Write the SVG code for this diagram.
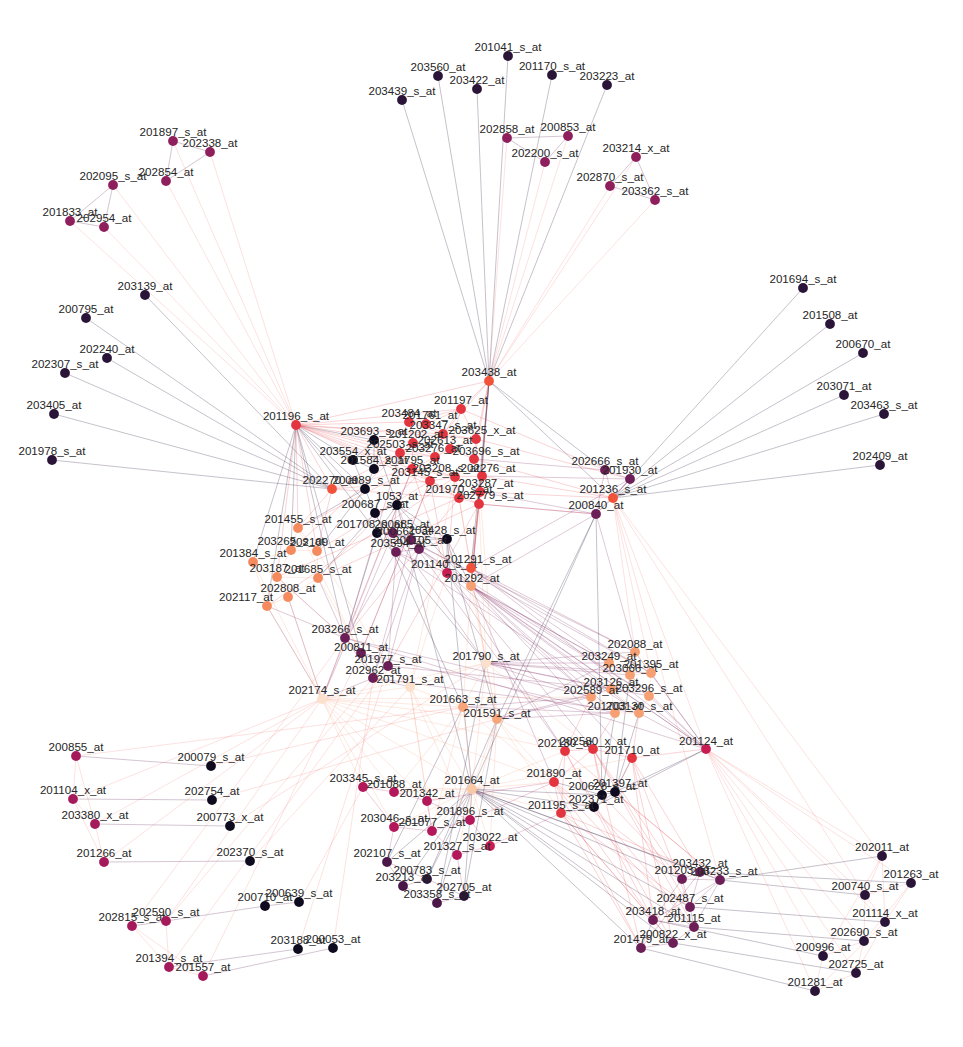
<svg xmlns="http://www.w3.org/2000/svg" width="963" height="1047" viewBox="0 0 963 1047">
<style>
text{font-family:"Liberation Sans",Arial,sans-serif;font-size:11.6px;fill:#262626;text-anchor:middle}
circle{r:4.9}
.d{fill:#2a1538}.k{fill:#0f0b1f}.m{fill:#8e1f5c}.w{fill:#a51a5b}.b{fill:#b2185a}.c{fill:#c91c53}
.p{fill:#6b1f56}.pd{fill:#4a1748}.r{fill:#e23540}.or{fill:#f0523a}.o{fill:#f58a5e}.q{fill:#f59f73}
.l{fill:#f6a67a}.vl{fill:#fbe0cc}.lp{fill:#f9c9a6}
.e{fill:none;stroke-width:0.65}
</style>
<rect width="963" height="1047" fill="#fff"/>
<g id="edges">
<path class="e" stroke="#3d2b4d" stroke-opacity="0.45" d="M508,56L489,381 M438,76L489,381 M477,89L489,381 M552,75L489,381 M607,85L489,381 M402,100L489,381 M145,295L332,489 M86,318L332,489 M107,358L332,489 M65,373L332,489 M54,414L332,489 M52,460L332,489 M803,288L613,498 M830,324L613,498 M863,353L613,498 M844,395L613,498 M884,414L613,498 M880,465L613,498 M489,381L613,498 M489,381L605,470 M489,381L480,492 M489,381L471,568 M489,381L471,586 M489,381L479,504 M296,425L374,440 M296,425L353,460 M296,425L365,489 M296,425L375,513 M296,425L377,533 M296,425L291,550 M296,425L253,562 M296,425L345,638 M296,425L361,653 M296,425L267,606 M374,440L353,460 M374,440L374,469 M353,460L374,469 M353,460L365,489 M374,469L365,489 M365,489L375,513 M375,513L397,505 M397,505L377,533 M377,533L447,539 M397,505L447,539 M374,440L397,505 M365,489L298,528 M365,489L317,551 M375,513L318,578 M377,533L345,638 M447,539L447,573 M447,539L471,586 M397,505L471,586 M596,514L472,789 M596,514L497,719 M596,514L602,795 M472,789L700,872 M472,789L682,879 M472,789L720,880 M472,789L690,907 M472,789L653,920 M472,789L694,927 M472,789L673,943 M472,789L641,948 M720,880L882,856 M720,880L865,895 M700,872L911,883 M690,907L885,922 M694,927L864,941 M653,920L823,956 M673,943L856,973 M641,948L815,991 M427,879L472,789 M464,896L472,789 M437,903L472,789 M387,862L472,789 M403,886L472,789 M464,896L497,719 M427,879L497,719 M437,903L486,663 M387,862L463,707 M602,795L615,792 M602,795L594,807 M615,792L594,807 M602,795L615,713 M615,792L639,713 M615,792L706,749 M594,807L561,813 M602,795L554,782 M615,792L632,758 M594,807L706,749 M615,792L630,675 M472,789L594,807 M472,789L602,795 M472,789L447,539 M472,789L397,505 M463,707L375,513 M497,719L447,539 M486,663L377,533"/>
<path class="e" stroke="#6a3a64" stroke-opacity="0.45" d="M76,756L211,766 M73,799L212,800 M95,824L230,826 M104,862L250,861 M166,921L265,906 M265,906L299,902 M169,967L298,949 M203,976L333,948 M132,926L166,921 M507,138L568,136 M507,138L545,162 M568,136L545,162 M636,157L610,186 M636,157L655,200 M610,186L655,200 M173,141L210,152 M173,141L166,181 M210,152L166,181 M113,185L70,221 M113,185L104,227 M70,221L104,227"/>
<path class="e" stroke="#7b1f5c" stroke-opacity="0.38" d="M700,872L682,879 M700,872L720,880 M682,879L720,880 M682,879L690,907 M720,880L690,907 M690,907L694,927 M653,920L694,927 M653,920L673,943 M653,920L641,948 M694,927L673,943 M673,943L641,948 M682,879L653,920 M720,880L694,927 M700,872L690,907 M720,880L653,920 M700,872L641,948 M387,862L403,886 M403,886L427,879 M427,879L464,896 M403,886L437,903 M437,903L464,896 M387,862L427,879 M471,568L635,652 M471,568L609,663 M471,568L651,673 M471,586L630,675 M471,586L611,689 M471,586L591,697 M471,586L649,696 M471,586L615,713 M471,586L639,713 M447,573L609,663 M447,573L591,697 M471,586L706,749 M471,568L706,749 M447,573L565,751 M447,573L593,749 M471,586L632,758 M471,586L554,782 M393,533L635,652 M411,540L651,673 M419,549L649,696 M396,552L639,713 M419,549L706,749 M411,540L565,751 M393,533L486,663 M396,552L345,638 M419,549L388,666 M411,540L373,678 M393,533L322,699 M345,638L591,697 M388,666L611,689 M361,653L615,713 M373,678L639,713 M345,638L706,749 M345,638L361,653 M361,653L388,666 M388,666L373,678 M345,638L373,678 M361,653L373,678 M345,638L322,699 M373,678L322,699 M388,666L410,687 M373,678L410,687 M345,638L267,606 M345,638L318,578 M361,653L277,577 M322,699L267,606 M322,699L288,597 M388,666L396,552 M373,678L419,549 M345,638L400,453 M345,638L412,469 M361,653L430,481 M377,533L393,533 M393,533L411,540 M411,540L447,539 M411,540L419,549 M419,549L396,552 M393,533L396,552 M419,549L447,539 M411,540L396,552 M396,552L447,573 M419,549L447,573 M393,533L397,505 M411,540L397,505 M396,552L375,513 M635,652L706,749 M651,673L706,749 M649,696L706,749 M639,713L706,749 M630,675L706,749 M605,470L630,479 M605,470L613,498 M630,479L613,498 M596,514L613,498 M605,470L596,514 M630,479L596,514 M605,470L474,459 M630,479L482,476 M596,514L480,492 M596,514L479,504 M596,514L471,586 M630,479L471,568 M596,514L635,652 M486,663L635,652 M486,663L609,663 M486,663L630,675 M486,663L611,689 M486,663L591,697 M497,719L609,663 M497,719L591,697 M497,719L615,713 M497,719L611,689 M463,707L591,697 M463,707L615,713 M486,663L651,673 M486,663L649,696"/>
<path class="e" stroke="#e3343f" stroke-opacity="0.33" d="M461,409L409,422 M461,409L426,424 M461,409L443,434 M461,409L476,439 M461,409L450,449 M409,422L426,424 M409,422L443,434 M409,422L413,443 M426,424L443,434 M426,424L413,443 M443,434L476,439 M443,434L450,449 M443,434L435,457 M476,439L450,449 M476,439L474,459 M413,443L400,453 M413,443L435,457 M450,449L435,457 M450,449L474,459 M400,453L435,457 M400,453L412,469 M435,457L412,469 M435,457L455,477 M474,459L455,477 M474,459L482,476 M412,469L430,481 M455,477L482,476 M455,477L430,481 M482,476L480,492 M430,481L459,498 M480,492L459,498 M480,492L479,504 M459,498L479,504 M455,477L459,498 M412,469L455,477 M413,443L412,469 M400,453L430,481 M430,481L479,504 M296,425L461,409 M296,425L409,422 M296,425L443,434 M296,425L413,443 M296,425L400,453 M296,425L412,469 M296,425L435,457 M296,425L430,481 M296,425L455,477 M296,425L459,498 M296,425L332,489 M296,425L489,381 M296,425L476,439 M296,425L298,528 M296,425L317,551 M296,425L277,577 M489,381L461,409 M489,381L476,439 M489,381L443,434 M489,381L474,459 M489,381L482,476 M332,489L400,453 M332,489L412,469 M332,489L430,481 M332,489L459,498 M332,489L298,528 M332,489L317,551 M459,498L471,568 M479,504L471,568 M480,492L471,586 M455,477L447,573 M430,481L447,573 M412,469L447,573 M482,476L471,586 M479,504L471,586 M412,469L298,528 M400,453L291,550 M430,481L317,551 M435,457L318,578 M459,498L277,577 M455,477L267,606 M479,504L318,578 M482,476L613,498 M480,492L613,498 M474,459L613,498 M479,504L596,514 M476,439L630,479 M461,409L605,470 M459,498L345,638 M430,481L361,653 M412,469L322,699 M479,504L388,666 M565,751L593,749 M593,749L632,758 M565,751L554,782 M554,782L561,813 M593,749L602,795 M632,758L615,792 M565,751L561,813 M593,749L554,782 M632,758L706,749 M565,751L591,697 M593,749L615,713 M632,758L639,713 M554,782L682,879 M554,782L653,920 M554,782L641,948 M561,813L700,872 M561,813L690,907 M561,813L673,943 M565,751L720,880 M565,751L653,920 M593,749L682,879 M593,749L694,927 M593,749L641,948 M632,758L700,872 M632,758L690,907 M632,758L673,943 M561,813L653,920 M561,813L641,948 M554,782L694,927 M565,751L673,943 M593,749L690,907 M632,758L653,920 M602,795L682,879 M615,792L720,880 M594,807L694,927"/>
<path class="e" stroke="#f06a5c" stroke-opacity="0.3" d="M706,749L882,856 M706,749L911,883 M706,749L865,895 M706,749L885,922 M706,749L864,941 M706,749L823,956 M706,749L856,973 M706,749L815,991 M613,498L882,856 M613,498L865,895 M613,498L720,880 M613,498L706,749 M613,498L651,673 M613,498L635,652 M882,856L865,895 M882,856L885,922 M911,883L885,922 M911,883L865,895 M865,895L864,941 M885,922L856,973 M864,941L823,956 M823,956L815,991 M856,973L815,991 M864,941L856,973 M865,895L885,922 M882,856L823,956 M911,883L864,941 M885,922L815,991 M76,756L73,799 M76,756L95,824 M73,799L104,862 M95,824L104,862 M73,799L95,824 M132,926L169,967 M166,921L169,967 M169,967L203,976 M132,926L203,976 M76,756L463,707 M73,799L322,699 M95,824L322,699 M104,862L322,699 M132,926L345,638 M166,921L373,678 M169,967L388,666 M203,976L361,653 M166,921L322,699 M211,766L463,707 M212,800L497,719 M230,826L486,663 M250,861L410,687 M299,902L363,787 M298,949L388,666 M333,948L373,678 M173,141L296,425 M210,152L296,425 M166,181L296,425 M113,185L296,425 M70,221L296,425 M104,227L296,425 M507,138L489,381 M568,136L489,381 M545,162L489,381 M610,186L489,381 M655,200L489,381 M636,157L489,381"/>
<path class="e" stroke="#f6a07c" stroke-opacity="0.36" d="M322,699L410,687 M322,699L486,663 M322,699L463,707 M322,699L497,719 M322,699L363,787 M322,699L394,792 M322,699L427,801 M322,699L394,827 M322,699L565,751 M322,699L554,782 M322,699L472,789 M322,699L591,697 M410,687L486,663 M410,687L463,707 M410,687L472,789 M410,687L427,801 M410,687L432,831 M410,687L470,820 M463,707L497,719 M486,663L497,719 M486,663L463,707 M497,719L472,789 M463,707L472,789 M486,663L472,789 M497,719L565,751 M497,719L554,782 M497,719L561,813 M463,707L554,782 M486,663L593,749 M472,789L554,782 M472,789L561,813 M472,789L565,751 M472,789L632,758 M497,719L470,820 M497,719L490,846 M463,707L394,792 M463,707L432,831 M472,789L363,787 M472,789L394,792 M472,789L427,801 M472,789L394,827 M472,789L432,831 M472,789L470,820 M472,789L490,846 M472,789L457,855 M459,498L486,663 M479,504L486,663 M455,477L410,687 M471,568L486,663 M471,586L497,719 M471,586L463,707 M480,492L497,719 M447,573L410,687 M635,652L609,663 M635,652L630,675 M635,652L651,673 M609,663L630,675 M609,663L611,689 M630,675L651,673 M630,675L611,689 M630,675L649,696 M651,673L649,696 M611,689L591,697 M611,689L615,713 M591,697L615,713 M649,696L639,713 M615,713L639,713 M611,689L639,713 M591,697L639,713 M298,528L291,550 M298,528L317,551 M291,550L317,551 M291,550L253,562 M291,550L277,577 M317,551L318,578 M253,562L277,577 M277,577L318,578 M277,577L288,597 M318,578L288,597 M288,597L267,606 M253,562L267,606 M277,577L267,606 M253,562L322,699 M267,606L322,699 M288,597L322,699 M277,577L345,638 M318,578L361,653 M317,551L388,666 M298,528L373,678"/>
<path class="e" stroke="#b0195b" stroke-opacity="0.34" d="M363,787L394,792 M394,792L427,801 M363,787L394,827 M394,827L432,831 M427,801L432,831 M432,831L470,820 M470,820L490,846 M432,831L457,855 M490,846L457,855 M457,855L464,896 M394,827L387,862 M427,801L470,820 M470,820L554,782 M490,846L561,813 M427,801L554,782"/>
</g>
<g id="nodes">
<g id="n201041_s_at"><circle class="d" cx="508" cy="56"/><text x="508" y="51">201041_s_at</text></g>
<g id="n203560_at"><circle class="d" cx="438" cy="76"/><text x="438" y="71">203560_at</text></g>
<g id="n203422_at"><circle class="d" cx="477" cy="89"/><text x="477" y="84">203422_at</text></g>
<g id="n201170_s_at"><circle class="d" cx="552" cy="75"/><text x="552" y="70">201170_s_at</text></g>
<g id="n203223_at"><circle class="d" cx="607" cy="85"/><text x="607" y="80">203223_at</text></g>
<g id="n203439_s_at"><circle class="d" cx="402" cy="100"/><text x="402" y="95">203439_s_at</text></g>
<g id="n202858_at"><circle class="m" cx="507" cy="138"/><text x="507" y="133">202858_at</text></g>
<g id="n200853_at"><circle class="m" cx="568" cy="136"/><text x="568" y="131">200853_at</text></g>
<g id="n202200_s_at"><circle class="m" cx="545" cy="162"/><text x="545" y="157">202200_s_at</text></g>
<g id="n203214_x_at"><circle class="m" cx="636" cy="157"/><text x="636" y="152">203214_x_at</text></g>
<g id="n202870_s_at"><circle class="m" cx="610" cy="186"/><text x="610" y="181">202870_s_at</text></g>
<g id="n203362_s_at"><circle class="m" cx="655" cy="200"/><text x="655" y="195">203362_s_at</text></g>
<g id="n201897_s_at"><circle class="m" cx="173" cy="141"/><text x="173" y="136">201897_s_at</text></g>
<g id="n202338_at"><circle class="m" cx="210" cy="152"/><text x="210" y="147">202338_at</text></g>
<g id="n202854_at"><circle class="m" cx="166" cy="181"/><text x="166" y="176">202854_at</text></g>
<g id="n202095_s_at"><circle class="m" cx="113" cy="185"/><text x="113" y="180">202095_s_at</text></g>
<g id="n201833_at"><circle class="m" cx="70" cy="221"/><text x="70" y="216">201833_at</text></g>
<g id="n202954_at"><circle class="m" cx="104" cy="227"/><text x="104" y="222">202954_at</text></g>
<g id="n203139_at"><circle class="d" cx="145" cy="295"/><text x="145" y="290">203139_at</text></g>
<g id="n200795_at"><circle class="d" cx="86" cy="318"/><text x="86" y="313">200795_at</text></g>
<g id="n202240_at"><circle class="d" cx="107" cy="358"/><text x="107" y="353">202240_at</text></g>
<g id="n202307_s_at"><circle class="d" cx="65" cy="373"/><text x="65" y="368">202307_s_at</text></g>
<g id="n203405_at"><circle class="d" cx="54" cy="414"/><text x="54" y="409">203405_at</text></g>
<g id="n201978_s_at"><circle class="d" cx="52" cy="460"/><text x="52" y="455">201978_s_at</text></g>
<g id="n201694_s_at"><circle class="d" cx="803" cy="288"/><text x="803" y="283">201694_s_at</text></g>
<g id="n201508_at"><circle class="d" cx="830" cy="324"/><text x="830" y="319">201508_at</text></g>
<g id="n200670_at"><circle class="d" cx="863" cy="353"/><text x="863" y="348">200670_at</text></g>
<g id="n203071_at"><circle class="d" cx="844" cy="395"/><text x="844" y="390">203071_at</text></g>
<g id="n203463_s_at"><circle class="d" cx="884" cy="414"/><text x="884" y="409">203463_s_at</text></g>
<g id="n202409_at"><circle class="d" cx="880" cy="465"/><text x="880" y="460">202409_at</text></g>
<g id="n203438_at"><circle class="or" cx="489" cy="381"/><text x="489" y="376">203438_at</text></g>
<g id="n201196_s_at"><circle class="r" cx="296" cy="425"/><text x="296" y="420">201196_s_at</text></g>
<g id="n202666_s_at"><circle class="p" cx="605" cy="470"/><text x="605" y="465">202666_s_at</text></g>
<g id="n201930_at"><circle class="p" cx="630" cy="479"/><text x="630" y="474">201930_at</text></g>
<g id="n201236_s_at"><circle class="or" cx="613" cy="498"/><text x="613" y="493">201236_s_at</text></g>
<g id="n200840_at"><circle class="p" cx="596" cy="514"/><text x="596" y="509">200840_at</text></g>
<g id="n201197_at"><circle class="r" cx="461" cy="409"/><text x="461" y="404">201197_at</text></g>
<g id="n203484_at"><circle class="r" cx="409" cy="422"/><text x="409" y="417">203484_at</text></g>
<g id="n201761_at"><circle class="r" cx="426" cy="424"/><text x="430" y="419">201761_at</text></g>
<g id="n203347_s_at"><circle class="r" cx="443" cy="434"/><text x="443" y="429">203347_s_at</text></g>
<g id="n203625_x_at"><circle class="r" cx="476" cy="439"/><text x="482" y="434">203625_x_at</text></g>
<g id="n203693_s_at"><circle class="k" cx="374" cy="440"/><text x="374" y="435">203693_s_at</text></g>
<g id="n201202_at"><circle class="r" cx="413" cy="443"/><text x="416" y="438">201202_at</text></g>
<g id="n202613_at"><circle class="r" cx="450" cy="449"/><text x="445" y="444">202613_at</text></g>
<g id="n202503_s_at"><circle class="r" cx="400" cy="453"/><text x="400" y="448">202503_s_at</text></g>
<g id="n203276_at"><circle class="r" cx="435" cy="457"/><text x="433" y="452">203276_at</text></g>
<g id="n203696_s_at"><circle class="r" cx="474" cy="459"/><text x="486" y="455">203696_s_at</text></g>
<g id="n203554_x_at"><circle class="k" cx="353" cy="460"/><text x="353" y="455">203554_x_at</text></g>
<g id="n201584_s_at"><circle class="k" cx="374" cy="469"/><text x="374" y="464">201584_s_at</text></g>
<g id="n201795_at"><circle class="r" cx="412" cy="469"/><text x="412" y="464">201795_at</text></g>
<g id="n203208_s_at"><circle class="r" cx="455" cy="477"/><text x="446" y="472">203208_s_at</text></g>
<g id="n202276_at"><circle class="r" cx="482" cy="476"/><text x="488" y="472">202276_at</text></g>
<g id="n203145_s_at"><circle class="r" cx="430" cy="481"/><text x="425" y="476">203145_s_at</text></g>
<g id="n203287_at"><circle class="r" cx="480" cy="492"/><text x="486" y="487">203287_at</text></g>
<g id="n201970_s_at"><circle class="r" cx="459" cy="498"/><text x="459" y="493">201970_s_at</text></g>
<g id="n202779_s_at"><circle class="r" cx="479" cy="504"/><text x="490" y="499">202779_s_at</text></g>
<g id="n202270_at"><circle class="or" cx="332" cy="489"/><text x="330" y="484">202270_at</text></g>
<g id="n200989_s_at"><circle class="k" cx="365" cy="489"/><text x="366" y="484">200989_s_at</text></g>
<g id="n1053_at"><circle class="k" cx="397" cy="505"/><text x="397" y="500">1053_at</text></g>
<g id="n200687_s_at"><circle class="k" cx="375" cy="513"/><text x="375" y="508">200687_s_at</text></g>
<g id="n201455_s_at"><circle class="o" cx="298" cy="528"/><text x="298" y="523">201455_s_at</text></g>
<g id="n203265_s_at"><circle class="o" cx="291" cy="550"/><text x="291" y="545">203265_s_at</text></g>
<g id="n202109_at"><circle class="o" cx="317" cy="551"/><text x="317" y="546">202109_at</text></g>
<g id="n201384_s_at"><circle class="o" cx="253" cy="562"/><text x="253" y="557">201384_s_at</text></g>
<g id="n203187_at"><circle class="o" cx="277" cy="577"/><text x="277" y="572">203187_at</text></g>
<g id="n201685_s_at"><circle class="o" cx="318" cy="578"/><text x="318" y="573">201685_s_at</text></g>
<g id="n202808_at"><circle class="o" cx="288" cy="597"/><text x="288" y="592">202808_at</text></g>
<g id="n202117_at"><circle class="o" cx="267" cy="606"/><text x="246" y="601">202117_at</text></g>
<g id="n201708_s_at"><circle class="k" cx="377" cy="533"/><text x="370" y="528">201708_s_at</text></g>
<g id="n200685_at"><circle class="p" cx="393" cy="533"/><text x="402" y="528">200685_at</text></g>
<g id="n200661_at"><circle class="p" cx="411" cy="540"/><text x="404" y="535">200661_at</text></g>
<g id="n203428_s_at"><circle class="k" cx="447" cy="539"/><text x="442" y="534">203428_s_at</text></g>
<g id="n201105_at"><circle class="p" cx="419" cy="549"/><text x="420" y="544">201105_at</text></g>
<g id="n203594_at"><circle class="p" cx="396" cy="552"/><text x="398" y="547">203594_at</text></g>
<g id="n201140_s_at"><circle class="c" cx="447" cy="573"/><text x="444" y="568">201140_s_at</text></g>
<g id="n201291_s_at"><circle class="or" cx="471" cy="568"/><text x="478" y="563">201291_s_at</text></g>
<g id="n201292_at"><circle class="q" cx="471" cy="586"/><text x="472" y="582">201292_at</text></g>
<g id="n203266_s_at"><circle class="p" cx="345" cy="638"/><text x="345" y="633">203266_s_at</text></g>
<g id="n200811_at"><circle class="p" cx="361" cy="653"/><text x="361" y="651">200811_at</text></g>
<g id="n201977_s_at"><circle class="p" cx="388" cy="666"/><text x="388" y="663">201977_s_at</text></g>
<g id="n202962_at"><circle class="p" cx="373" cy="678"/><text x="373" y="674">202962_at</text></g>
<g id="n201791_s_at"><circle class="vl" cx="410" cy="687"/><text x="410" y="683">201791_s_at</text></g>
<g id="n202174_s_at"><circle class="vl" cx="322" cy="699"/><text x="322" y="694">202174_s_at</text></g>
<g id="n201790_s_at"><circle class="vl" cx="486" cy="663"/><text x="486" y="660">201790_s_at</text></g>
<g id="n201663_s_at"><circle class="l" cx="463" cy="707"/><text x="463" y="703">201663_s_at</text></g>
<g id="n201591_s_at"><circle class="l" cx="497" cy="719"/><text x="497" y="717">201591_s_at</text></g>
<g id="n202088_at"><circle class="q" cx="635" cy="652"/><text x="635" y="648">202088_at</text></g>
<g id="n203249_at"><circle class="q" cx="609" cy="663"/><text x="609" y="660">203249_at</text></g>
<g id="n203066_at"><circle class="q" cx="630" cy="675"/><text x="630" y="672">203066_at</text></g>
<g id="n201395_at"><circle class="q" cx="651" cy="673"/><text x="651" y="668">201395_at</text></g>
<g id="n203126_at"><circle class="q" cx="611" cy="689"/><text x="611" y="686">203126_at</text></g>
<g id="n202589_at"><circle class="q" cx="591" cy="697"/><text x="591" y="694">202589_at</text></g>
<g id="n203296_s_at"><circle class="q" cx="649" cy="696"/><text x="649" y="692">203296_s_at</text></g>
<g id="n201703_at"><circle class="q" cx="615" cy="713"/><text x="615" y="710">201703_at</text></g>
<g id="n203130_s_at"><circle class="q" cx="639" cy="713"/><text x="639" y="710">203130_s_at</text></g>
<g id="n201124_at"><circle class="c" cx="706" cy="749"/><text x="706" y="745">201124_at</text></g>
<g id="n202180_at"><circle class="r" cx="565" cy="751"/><text x="565" y="747">202180_at</text></g>
<g id="n202580_x_at"><circle class="r" cx="593" cy="749"/><text x="593" y="745">202580_x_at</text></g>
<g id="n201710_at"><circle class="r" cx="632" cy="758"/><text x="632" y="754">201710_at</text></g>
<g id="n201890_at"><circle class="r" cx="554" cy="782"/><text x="554" y="777">201890_at</text></g>
<g id="n200628_s_at"><circle class="k" cx="602" cy="795"/><text x="602" y="790">200628_s_at</text></g>
<g id="n201397_at"><circle class="k" cx="615" cy="792"/><text x="620" y="787">201397_at</text></g>
<g id="n202371_at"><circle class="k" cx="594" cy="807"/><text x="596" y="803">202371_at</text></g>
<g id="n201195_s_at"><circle class="r" cx="561" cy="813"/><text x="561" y="809">201195_s_at</text></g>
<g id="n201664_at"><circle class="lp" cx="472" cy="789"/><text x="472" y="784">201664_at</text></g>
<g id="n203345_s_at"><circle class="b" cx="363" cy="787"/><text x="363" y="782">203345_s_at</text></g>
<g id="n201088_at"><circle class="b" cx="394" cy="792"/><text x="394" y="788">201088_at</text></g>
<g id="n201342_at"><circle class="b" cx="427" cy="801"/><text x="427" y="797">201342_at</text></g>
<g id="n203046_s_at"><circle class="b" cx="394" cy="827"/><text x="394" y="822">203046_s_at</text></g>
<g id="n201077_s_at"><circle class="b" cx="432" cy="831"/><text x="432" y="826">201077_s_at</text></g>
<g id="n201896_s_at"><circle class="b" cx="470" cy="820"/><text x="470" y="815">201896_s_at</text></g>
<g id="n203022_at"><circle class="c" cx="490" cy="846"/><text x="490" y="841">203022_at</text></g>
<g id="n201327_s_at"><circle class="b" cx="457" cy="855"/><text x="457" y="850">201327_s_at</text></g>
<g id="n202107_s_at"><circle class="pd" cx="387" cy="862"/><text x="387" y="857">202107_s_at</text></g>
<g id="n200783_s_at"><circle class="d" cx="427" cy="879"/><text x="427" y="874">200783_s_at</text></g>
<g id="n203213_at"><circle class="pd" cx="403" cy="886"/><text x="403" y="881">203213_at</text></g>
<g id="n202705_at"><circle class="d" cx="464" cy="896"/><text x="464" y="891">202705_at</text></g>
<g id="n203358_s_at"><circle class="pd" cx="437" cy="903"/><text x="437" y="898">203358_s_at</text></g>
<g id="n200855_at"><circle class="w" cx="76" cy="756"/><text x="76" y="751">200855_at</text></g>
<g id="n200079_s_at"><circle class="k" cx="211" cy="766"/><text x="211" y="761">200079_s_at</text></g>
<g id="n201104_x_at"><circle class="w" cx="73" cy="799"/><text x="73" y="794">201104_x_at</text></g>
<g id="n202754_at"><circle class="k" cx="212" cy="800"/><text x="212" y="795">202754_at</text></g>
<g id="n203380_x_at"><circle class="w" cx="95" cy="824"/><text x="95" y="819">203380_x_at</text></g>
<g id="n200773_x_at"><circle class="k" cx="230" cy="826"/><text x="230" y="821">200773_x_at</text></g>
<g id="n201266_at"><circle class="w" cx="104" cy="862"/><text x="104" y="857">201266_at</text></g>
<g id="n202370_s_at"><circle class="k" cx="250" cy="861"/><text x="250" y="856">202370_s_at</text></g>
<g id="n200710_at"><circle class="k" cx="265" cy="906"/><text x="265" y="901">200710_at</text></g>
<g id="n200639_s_at"><circle class="k" cx="299" cy="902"/><text x="299" y="897">200639_s_at</text></g>
<g id="n202815_s_at"><circle class="w" cx="132" cy="926"/><text x="132" y="921">202815_s_at</text></g>
<g id="n202590_s_at"><circle class="w" cx="166" cy="921"/><text x="166" y="916">202590_s_at</text></g>
<g id="n203188_at"><circle class="k" cx="298" cy="949"/><text x="298" y="944">203188_at</text></g>
<g id="n200053_at"><circle class="k" cx="333" cy="948"/><text x="333" y="943">200053_at</text></g>
<g id="n201394_s_at"><circle class="w" cx="169" cy="967"/><text x="169" y="962">201394_s_at</text></g>
<g id="n201557_at"><circle class="w" cx="203" cy="976"/><text x="203" y="971">201557_at</text></g>
<g id="n203432_at"><circle class="p" cx="700" cy="872"/><text x="700" y="867">203432_at</text></g>
<g id="n201203_at"><circle class="p" cx="682" cy="879"/><text x="682" y="874">201203_at</text></g>
<g id="n203233_s_at"><circle class="p" cx="720" cy="880"/><text x="724" y="875">203233_s_at</text></g>
<g id="n202487_s_at"><circle class="p" cx="690" cy="907"/><text x="690" y="902">202487_s_at</text></g>
<g id="n203418_at"><circle class="p" cx="653" cy="920"/><text x="653" y="915">203418_at</text></g>
<g id="n201115_at"><circle class="p" cx="694" cy="927"/><text x="694" y="922">201115_at</text></g>
<g id="n200822_x_at"><circle class="p" cx="673" cy="943"/><text x="673" y="938">200822_x_at</text></g>
<g id="n201479_at"><circle class="p" cx="641" cy="948"/><text x="641" y="943">201479_at</text></g>
<g id="n202011_at"><circle class="d" cx="882" cy="856"/><text x="882" y="851">202011_at</text></g>
<g id="n201263_at"><circle class="d" cx="911" cy="883"/><text x="911" y="878">201263_at</text></g>
<g id="n200740_s_at"><circle class="d" cx="865" cy="895"/><text x="865" y="890">200740_s_at</text></g>
<g id="n201114_x_at"><circle class="d" cx="885" cy="922"/><text x="885" y="917">201114_x_at</text></g>
<g id="n202690_s_at"><circle class="d" cx="864" cy="941"/><text x="864" y="936">202690_s_at</text></g>
<g id="n200996_at"><circle class="d" cx="823" cy="956"/><text x="823" y="951">200996_at</text></g>
<g id="n202725_at"><circle class="d" cx="856" cy="973"/><text x="856" y="968">202725_at</text></g>
<g id="n201281_at"><circle class="d" cx="815" cy="991"/><text x="815" y="986">201281_at</text></g>
</g>
</svg>
